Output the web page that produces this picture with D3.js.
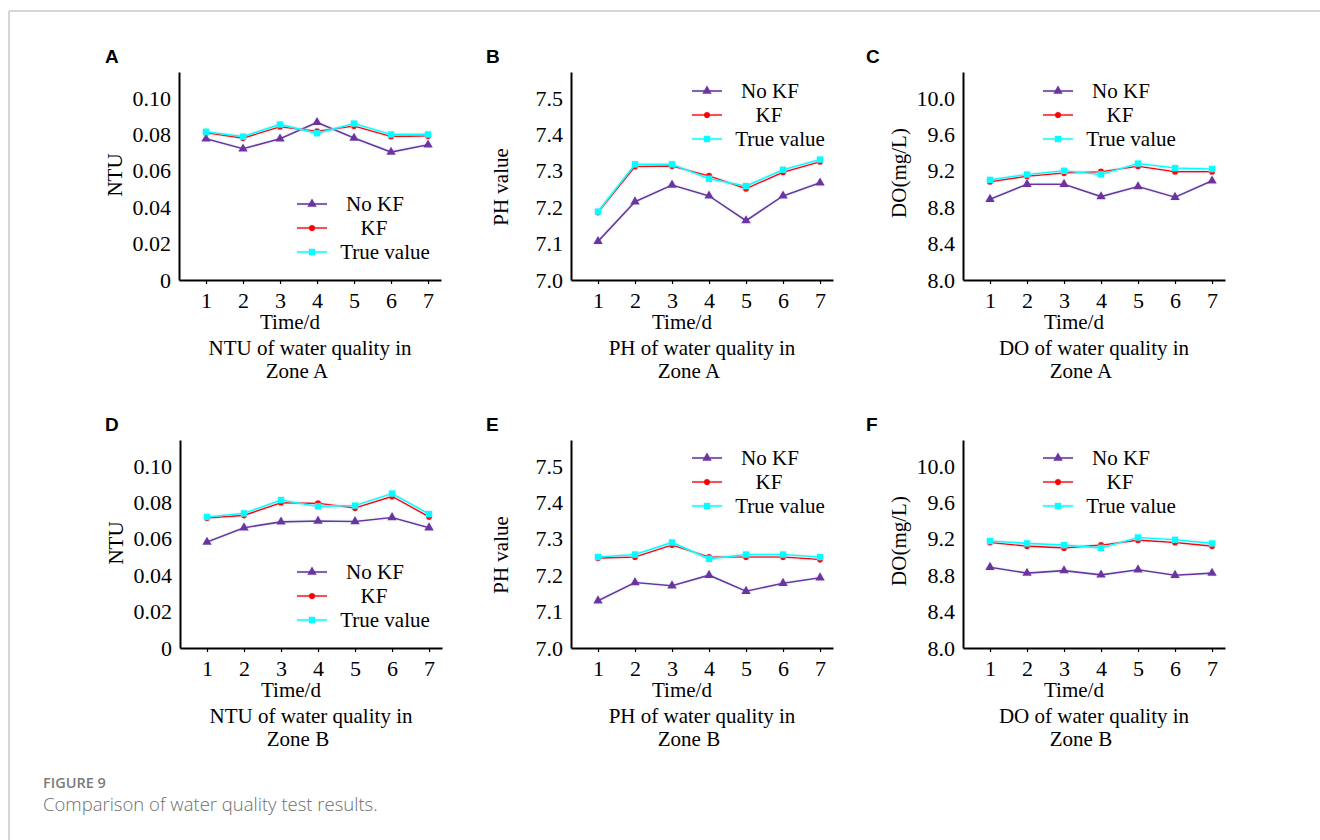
<!DOCTYPE html>
<html>
<head>
<meta charset="utf-8">
<script src="https://cdn.jsdelivr.net/npm/d3@7"></script>
<style>
  body { margin: 0; background: #fff; }
  svg { display: block; }
</style>
</head>
<body>
<script>
// data
const days = [1, 2, 3, 4, 5, 6, 7];
const seriesNames = ["No KF", "KF", "True value"];

const ntuA_noKF = [0.0776, 0.0721, 0.0776, 0.0866, 0.0780, 0.0703, 0.0743];
const ntuA_KF   = [0.0809, 0.0780, 0.0842, 0.0817, 0.0846, 0.0789, 0.0791];
const ntuA_true = [0.0815, 0.0788, 0.0855, 0.0806, 0.0860, 0.0800, 0.0800];

const phA_noKF = [7.106, 7.215, 7.261, 7.231, 7.163, 7.231, 7.267];
const phA_KF   = [7.186, 7.312, 7.313, 7.286, 7.251, 7.296, 7.325];
const phA_true = [7.188, 7.318, 7.318, 7.278, 7.258, 7.303, 7.331];

const doA_noKF = [8.888, 9.053, 9.053, 8.917, 9.027, 8.910, 9.090];
const doA_KF   = [9.080, 9.140, 9.175, 9.190, 9.250, 9.190, 9.190];
const doA_true = [9.100, 9.160, 9.200, 9.160, 9.280, 9.230, 9.220];

const ntuB_noKF = [0.0582, 0.0661, 0.0693, 0.0698, 0.0695, 0.0717, 0.0661];
const ntuB_KF   = [0.0714, 0.0729, 0.0798, 0.0795, 0.0769, 0.0833, 0.0721];
const ntuB_true = [0.0720, 0.0740, 0.0813, 0.0778, 0.0783, 0.0849, 0.0736];

const phB_noKF = [7.130, 7.180, 7.171, 7.200, 7.156, 7.178, 7.193];
const phB_KF   = [7.247, 7.250, 7.283, 7.250, 7.250, 7.250, 7.243];
const phB_true = [7.250, 7.257, 7.290, 7.245, 7.257, 7.257, 7.250];

const doB_noKF = [8.888, 8.823, 8.850, 8.804, 8.860, 8.800, 8.823];
const doB_KF   = [9.160, 9.120, 9.100, 9.130, 9.185, 9.160, 9.120];
const doB_true = [9.175, 9.150, 9.130, 9.100, 9.215, 9.190, 9.150];

const ntuTicks = [0, 0.02, 0.04, 0.06, 0.08, 0.10];
const phTicks = [7.0, 7.1, 7.2, 7.3, 7.4, 7.5];
const doTicks = [8.0, 8.4, 8.8, 9.2, 9.6, 10.0];

const W = 1320, H = 840;
const plotW = 262, plotH = 208;
const serif = "'Liberation Serif','Times New Roman',serif";
const colors = ["#7030A0", "#FF0000", "#00FFFF"];
const symbols = [d3.symbolTriangle, d3.symbolCircle, d3.symbolSquare];
const symSizes = [38, 30, 40];
const legendTextDx = [48, 47, 58];

const fmtNtu = d => d === 0 ? "0" : d3.format(".2f")(d);
const fmt1 = d3.format(".1f");

const panels = [
  { letter: "A", x: 179, top: 72, lx: 105, dom: [0, 0.1143], ticks: ntuTicks, fmt: fmtNtu, ylab: "NTU", ylabX: -64, ylabY: 103,
    t1: "NTU of water quality in", t2: "Zone A", leg: [118, 132], data: [ntuA_noKF, ntuA_KF, ntuA_true] },
  { letter: "B", x: 571, top: 72, lx: 486, dom: [7.0, 7.5714], ticks: phTicks, fmt: fmt1, ylab: "PH value", ylabX: -70, ylabY: 115,
    t1: "PH of water quality in", t2: "Zone A", leg: [121, 19], data: [phA_noKF, phA_KF, phA_true] },
  { letter: "C", x: 963, top: 72, lx: 866, dom: [8.0, 10.2857], ticks: doTicks, fmt: fmt1, ylab: "DO(mg/L)", ylabX: -64, ylabY: 101,
    t1: "DO of water quality in", t2: "Zone A", leg: [80, 19], data: [doA_noKF, doA_KF, doA_true] },
  { letter: "D", x: 180, top: 440, lx: 105, dom: [0, 0.1143], ticks: ntuTicks, fmt: fmtNtu, ylab: "NTU", ylabX: -64, ylabY: 103,
    t1: "NTU of water quality in", t2: "Zone B", leg: [117, 132], data: [ntuB_noKF, ntuB_KF, ntuB_true] },
  { letter: "E", x: 571, top: 440, lx: 486, dom: [7.0, 7.5714], ticks: phTicks, fmt: fmt1, ylab: "PH value", ylabX: -70, ylabY: 115,
    t1: "PH of water quality in", t2: "Zone B", leg: [121, 18], data: [phB_noKF, phB_KF, phB_true] },
  { letter: "F", x: 963, top: 440, lx: 866, dom: [8.0, 10.2857], ticks: doTicks, fmt: fmt1, ylab: "DO(mg/L)", ylabX: -64, ylabY: 101,
    t1: "DO of water quality in", t2: "Zone B", leg: [80, 18], data: [doB_noKF, doB_KF, doB_true] }
];

const svg = d3.select("body").append("svg")
  .attr("width", W)
  .attr("height", H);

// soft halo around the series, as in the original
const defs = svg.append("defs");
defs.append("filter").attr("id", "glow")
  .attr("x", "-10%").attr("y", "-10%").attr("width", "120%").attr("height", "120%")
  .append("feDropShadow")
  .attr("dx", 0).attr("dy", 0)
  .attr("stdDeviation", 1.3)
  .attr("flood-color", "#8fc6e6")
  .attr("flood-opacity", 0.45);

// frame lines of the page
svg.append("line").attr("x1", 9).attr("x2", W).attr("y1", 11).attr("y2", 11)
  .attr("stroke", "#c9c9c9").attr("stroke-width", 1.5);
svg.append("line").attr("x1", 9).attr("x2", 9).attr("y1", 11).attr("y2", H)
  .attr("stroke", "#c9c9c9").attr("stroke-width", 1.5);

panels.forEach(p => {
  const g = svg.append("g").attr("transform", `translate(${p.x},${p.top})`);

  const x = d3.scaleLinear().domain([0.27, 7.35]).range([0, plotW]);
  const y = d3.scaleLinear().domain(p.dom).range([plotH, 0]);

  // panel letter
  svg.append("text")
    .attr("x", p.lx)
    .attr("y", p.top - 9)
    .style("font-family", "'Liberation Sans',Arial,sans-serif")
    .style("font-weight", "bold")
    .style("font-size", "19px")
    .text(p.letter);

  // x axis
  const xa = g.append("g")
    .attr("transform", `translate(0,${plotH})`)
    .call(d3.axisBottom(x).tickValues(days).tickFormat(d3.format("d"))
      .tickSize(4).tickSizeOuter(0).tickPadding(8));

  // y axis
  const ya = g.append("g")
    .call(d3.axisLeft(y).tickValues(p.ticks).tickFormat(p.fmt)
      .tickSize(0).tickSizeOuter(0).tickPadding(8));

  [xa, ya].forEach(a => {
    a.select(".domain").attr("stroke", "#000").attr("stroke-width", 2);
    a.selectAll(".tick line").attr("stroke", "#000").attr("stroke-width", 1.2);
    a.selectAll("text")
      .attr("fill", "#000")
      .style("font-family", serif)
      .style("font-size", "22px");
  });

  // y label
  g.append("text")
    .attr("transform", `translate(${p.ylabX},${p.ylabY}) rotate(-90)`)
    .attr("text-anchor", "middle")
    .attr("dy", "0.35em")
    .style("font-family", serif)
    .style("font-size", "21px")
    .text(p.ylab);

  // x label and panel caption
  const labs = [["Time/d", 111, 257], [p.t1, 131, 283], [p.t2, 118, 306]];
  labs.forEach(l => {
    g.append("text")
      .attr("x", l[1]).attr("y", l[2])
      .attr("text-anchor", "middle")
      .style("font-family", serif)
      .style("font-size", "21px")
      .text(l[0]);
  });

  // series
  const line = d3.line().x((d, i) => x(days[i])).y(d => y(d));
  p.data.forEach((vals, s) => {
    const sg = g.append("g").attr("filter", "url(#glow)");
    sg.append("path")
      .datum(vals)
      .attr("d", line)
      .attr("fill", "none")
      .attr("stroke", colors[s])
      .attr("stroke-width", 1.6);
    sg.selectAll("path.pt")
      .data(vals)
      .enter()
      .append("path")
      .attr("class", "pt")
      .attr("transform", (d, i) => `translate(${x(days[i])},${y(d)})`)
      .attr("d", d3.symbol().type(symbols[s]).size(symSizes[s]))
      .attr("fill", colors[s]);
  });

  // legend
  const lg = g.append("g").attr("transform", `translate(${p.leg[0]},${p.leg[1]})`);
  seriesNames.forEach((name, s) => {
    const row = lg.append("g").attr("transform", `translate(0,${s * 24})`)
      .attr("filter", "url(#glow)");
    row.append("line").attr("x1", 0).attr("x2", 30)
      .attr("stroke", colors[s]).attr("stroke-width", 1.6);
    row.append("path")
      .attr("transform", "translate(15,0)")
      .attr("d", d3.symbol().type(symbols[s]).size(symSizes[s]))
      .attr("fill", colors[s]);
    lg.append("text")
      .attr("x", 30 + legendTextDx[s])
      .attr("y", s * 24)
      .attr("dy", "0.35em")
      .attr("text-anchor", "middle")
      .style("font-family", serif)
      .style("font-size", "21px")
      .text(name);
  });
});

// figure caption
svg.append("text")
  .attr("x", 43).attr("y", 788)
  .style("font-family", "'Open Sans','Noto Sans',sans-serif")
  .style("font-weight", 600)
  .style("font-size", "14.5px")
  .attr("fill", "#7b7b7b")
  .text("FIGURE 9");
svg.append("text")
  .attr("x", 43).attr("y", 811)
  .style("font-family", "'Open Sans','Noto Sans',sans-serif")
  .style("font-weight", 300)
  .style("font-size", "18.5px")
  .attr("fill", "#6e6e6e")
  .text("Comparison of water quality test results.");
</script>
</body>
</html>
